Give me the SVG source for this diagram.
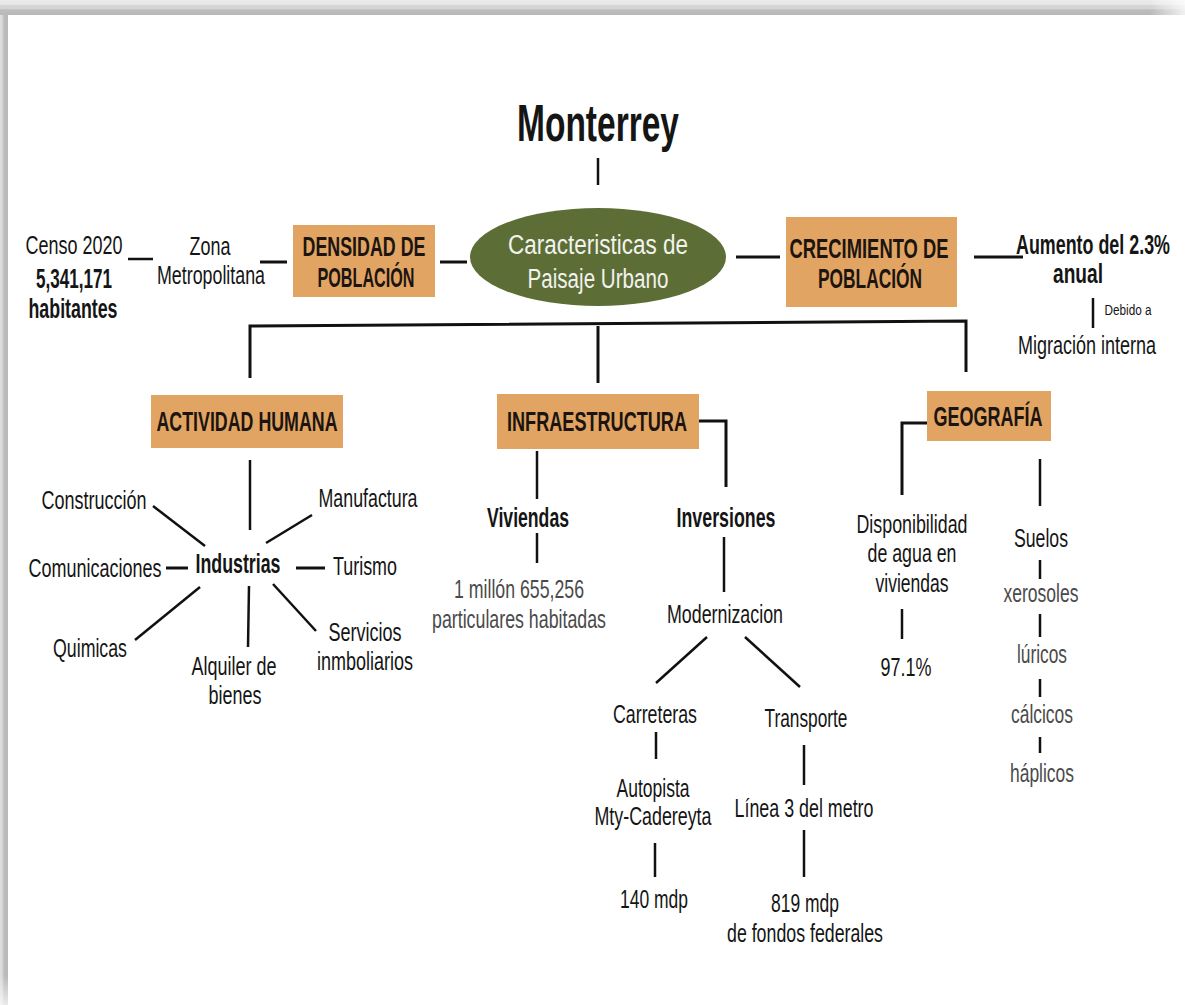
<svg xmlns="http://www.w3.org/2000/svg" width="1185" height="1005" viewBox="0 0 1185 1005">
  <defs>
    <linearGradient id="topBand" x1="0" y1="0" x2="0" y2="1">
      <stop offset="0" stop-color="#ececec"/>
      <stop offset="0.3" stop-color="#e6e6e6"/>
      <stop offset="0.35" stop-color="#d6d6d6"/>
      <stop offset="0.6" stop-color="#d3d3d3"/>
      <stop offset="0.65" stop-color="#bdbdbd"/>
      <stop offset="1" stop-color="#b9b9b9"/>
    </linearGradient>
    <linearGradient id="leftBand" x1="0" y1="0" x2="1" y2="0">
      <stop offset="0" stop-color="#e0e0e0"/>
      <stop offset="0.4" stop-color="#d2d2d2"/>
      <stop offset="0.45" stop-color="#bdbdbd"/>
      <stop offset="1" stop-color="#b8b8b8"/>
    </linearGradient>
    <linearGradient id="rightFade" x1="0" y1="0" x2="1" y2="0">
      <stop offset="0" stop-color="#ffffff" stop-opacity="0"/>
      <stop offset="1" stop-color="#ffffff" stop-opacity="0.8"/>
    </linearGradient>
    <linearGradient id="bottomFade" x1="0" y1="0" x2="0" y2="1">
      <stop offset="0" stop-color="#ffffff" stop-opacity="0"/>
      <stop offset="1" stop-color="#ffffff" stop-opacity="0.7"/>
    </linearGradient>
  </defs>
  <style>
    text { font-family: "Liberation Sans Narrow", "Liberation Sans", Arial, sans-serif; text-anchor: middle; fill: #151515; }
    .title { font-size: 52px; font-weight: bold; }
    .box { fill: #e1a462; }
    .boxtxt { font-size: 28px; font-weight: bold; fill: #1c1410; }
    .lbl { font-size: 26px; }
    .bold { font-size: 27px; font-weight: bold; }
    .grey { fill: #4a4a4a; }
    .oval { font-size: 27px; fill: #f2f2ee; }
    .small { font-size: 14px; }
    .conn line, .conn polyline { stroke: #111; stroke-width: 2.5; fill: none; }
    .conn .thick { stroke-width: 3; }
  </style>

  <!-- page frame -->
  <rect x="0" y="0" width="1185" height="1005" fill="#ffffff"/>
  <rect x="0" y="0" width="1185" height="15" fill="url(#topBand)"/>
  <rect x="0" y="15" width="8" height="990" fill="url(#leftBand)"/>
  <rect x="1150" y="0" width="35" height="15" fill="url(#rightFade)"/>
  <rect x="0" y="975" width="8" height="30" fill="url(#bottomFade)"/>

  <!-- connectors -->
  <g id="connectors" class="conn">
    <line x1="598" y1="158" x2="598" y2="185"/>
    <line x1="128" y1="259" x2="153" y2="259"/>
    <line class="thick" x1="260" y1="262" x2="287" y2="262"/>
    <line class="thick" x1="440" y1="262" x2="467" y2="262"/>
    <line class="thick" x1="736" y1="257" x2="780" y2="257"/>
    <line class="thick" x1="974" y1="257" x2="1023" y2="257"/>
    <line x1="1093" y1="298" x2="1093" y2="328"/>
    <polyline class="thick" points="250,378 250,326 966,321 966,372"/>
    <line class="thick" x1="598" y1="326" x2="598" y2="383"/>
    <!-- actividad humana -->
    <line x1="250" y1="460" x2="250" y2="530"/>
    <line x1="153" y1="506" x2="205" y2="546"/>
    <line x1="312" y1="515" x2="266" y2="543"/>
    <line class="thick" x1="166" y1="568" x2="188" y2="568"/>
    <line class="thick" x1="296" y1="568" x2="325" y2="568"/>
    <line x1="200" y1="587" x2="135" y2="640"/>
    <line x1="249" y1="586" x2="248" y2="647"/>
    <line x1="273" y1="584" x2="316" y2="631"/>
    <!-- infraestructura -->
    <line x1="537" y1="451" x2="537" y2="499"/>
    <line x1="537" y1="533" x2="537" y2="563"/>
    <polyline class="thick" points="699,421 726,421 726,487"/>
    <line x1="724" y1="537" x2="724" y2="592"/>
    <line x1="707" y1="637" x2="656" y2="683"/>
    <line x1="745" y1="637" x2="800" y2="687"/>
    <line x1="656" y1="732" x2="656" y2="759"/>
    <line x1="655" y1="843" x2="655" y2="877"/>
    <line x1="804" y1="745" x2="804" y2="785"/>
    <line x1="804" y1="830" x2="804" y2="877"/>
    <!-- geografia -->
    <polyline class="thick" points="927,423 902,423 902,495"/>
    <line x1="902" y1="609" x2="902" y2="639"/>
    <line x1="1040" y1="459" x2="1040" y2="506"/>
    <line x1="1040" y1="560" x2="1040" y2="579"/>
    <line x1="1040" y1="614" x2="1040" y2="637"/>
    <line x1="1040" y1="679" x2="1040" y2="697"/>
    <line x1="1040" y1="737" x2="1040" y2="753"/>
  </g>

  <g id="title">
    <text class="title" x="598" y="141" textLength="162" lengthAdjust="spacingAndGlyphs">Monterrey</text>
  </g>

  <g id="center">
    <ellipse cx="598" cy="257" rx="128" ry="49" fill="#5c6e36"/>
    <text class="oval" x="598" y="254" textLength="180" lengthAdjust="spacingAndGlyphs">Caracteristicas de</text>
    <text class="oval" x="598" y="288" textLength="141" lengthAdjust="spacingAndGlyphs">Paisaje Urbano</text>
  </g>

  <g id="densidad">
    <rect class="box" x="293" y="225" width="142" height="72"/>
    <text class="boxtxt" x="364" y="256" textLength="123" lengthAdjust="spacingAndGlyphs">DENSIDAD DE</text>
    <text class="boxtxt" x="366" y="287" textLength="97" lengthAdjust="spacingAndGlyphs">POBLACIÓN</text>
  </g>

  <g id="zona">
    <text class="lbl" x="210" y="255" textLength="41" lengthAdjust="spacingAndGlyphs">Zona</text>
    <text class="lbl" x="211" y="284" textLength="108" lengthAdjust="spacingAndGlyphs">Metropolitana</text>
  </g>

  <g id="censo">
    <text class="lbl" x="74" y="254" textLength="97" lengthAdjust="spacingAndGlyphs">Censo 2020</text>
    <text class="bold" x="74" y="288" textLength="76" lengthAdjust="spacingAndGlyphs">5,341,171</text>
    <text class="bold" x="73" y="318" textLength="89" lengthAdjust="spacingAndGlyphs">habitantes</text>
  </g>

  <g id="crecimiento">
    <rect class="box" x="786" y="217" width="171" height="90"/>
    <text class="boxtxt" x="869" y="258" textLength="159" lengthAdjust="spacingAndGlyphs">CRECIMIENTO DE</text>
    <text class="boxtxt" x="870" y="288" textLength="104" lengthAdjust="spacingAndGlyphs">POBLACIÓN</text>
  </g>

  <g id="aumento">
    <text class="bold" x="1093" y="254" textLength="154" lengthAdjust="spacingAndGlyphs">Aumento del 2.3%</text>
    <text class="bold" x="1078" y="283" textLength="50" lengthAdjust="spacingAndGlyphs">anual</text>
  </g>

  <g id="debido">
    <text class="small" x="1128" y="315" textLength="47" lengthAdjust="spacingAndGlyphs">Debido a</text>
  </g>

  <g id="migracion">
    <text class="lbl" x="1087" y="354" textLength="138" lengthAdjust="spacingAndGlyphs">Migración interna</text>
  </g>

  <g id="actividad">
    <rect class="box" x="151" y="395" width="192" height="53"/>
    <text class="boxtxt" x="247" y="431" textLength="181" lengthAdjust="spacingAndGlyphs">ACTIVIDAD HUMANA</text>
  </g>

  <g id="industrias">
    <text class="bold" x="238" y="573" textLength="85" lengthAdjust="spacingAndGlyphs">Industrias</text>
  </g>
  <g id="construccion">
    <text class="lbl" x="94" y="509" textLength="105" lengthAdjust="spacingAndGlyphs">Construcción</text>
  </g>
  <g id="manufactura">
    <text class="lbl" x="368" y="507" textLength="99" lengthAdjust="spacingAndGlyphs">Manufactura</text>
  </g>
  <g id="comunicaciones">
    <text class="lbl" x="95" y="577" textLength="133" lengthAdjust="spacingAndGlyphs">Comunicaciones</text>
  </g>
  <g id="turismo">
    <text class="lbl" x="365" y="575" textLength="64" lengthAdjust="spacingAndGlyphs">Turismo</text>
  </g>
  <g id="quimicas">
    <text class="lbl" x="90" y="657" textLength="74" lengthAdjust="spacingAndGlyphs">Quimicas</text>
  </g>
  <g id="alquiler">
    <text class="lbl" x="234" y="675" textLength="85" lengthAdjust="spacingAndGlyphs">Alquiler de</text>
    <text class="lbl" x="235" y="704" textLength="53" lengthAdjust="spacingAndGlyphs">bienes</text>
  </g>
  <g id="servicios">
    <text class="lbl" x="365" y="641" textLength="73" lengthAdjust="spacingAndGlyphs">Servicios</text>
    <text class="lbl" x="365" y="670" textLength="96" lengthAdjust="spacingAndGlyphs">inmboliarios</text>
  </g>

  <g id="infraestructura">
    <rect class="box" x="497" y="394" width="202" height="55"/>
    <text class="boxtxt" x="597" y="431" textLength="180" lengthAdjust="spacingAndGlyphs">INFRAESTRUCTURA</text>
  </g>
  <g id="viviendas">
    <text class="bold" x="528" y="527" textLength="82" lengthAdjust="spacingAndGlyphs">Viviendas</text>
  </g>
  <g id="millon">
    <text class="lbl grey" x="519" y="598" textLength="130" lengthAdjust="spacingAndGlyphs">1 millón 655,256</text>
    <text class="lbl grey" x="519" y="628" textLength="174" lengthAdjust="spacingAndGlyphs">particulares habitadas</text>
  </g>
  <g id="inversiones">
    <text class="bold" x="726" y="527" textLength="99" lengthAdjust="spacingAndGlyphs">Inversiones</text>
  </g>
  <g id="modernizacion">
    <text class="lbl" x="725" y="623" textLength="116" lengthAdjust="spacingAndGlyphs">Modernizacion</text>
  </g>
  <g id="carreteras">
    <text class="lbl" x="655" y="723" textLength="84" lengthAdjust="spacingAndGlyphs">Carreteras</text>
  </g>
  <g id="autopista">
    <text class="lbl" x="653" y="797" textLength="73" lengthAdjust="spacingAndGlyphs">Autopista</text>
    <text class="lbl" x="653" y="825" textLength="117" lengthAdjust="spacingAndGlyphs">Mty-Cadereyta</text>
  </g>
  <g id="mdp140">
    <text class="lbl" x="654" y="908" textLength="68" lengthAdjust="spacingAndGlyphs">140 mdp</text>
  </g>
  <g id="transporte">
    <text class="lbl" x="806" y="727" textLength="83" lengthAdjust="spacingAndGlyphs">Transporte</text>
  </g>
  <g id="linea3">
    <text class="lbl" x="804" y="817" textLength="139" lengthAdjust="spacingAndGlyphs">Línea 3 del metro</text>
  </g>
  <g id="mdp819">
    <text class="lbl" x="805" y="912" textLength="68" lengthAdjust="spacingAndGlyphs">819 mdp</text>
    <text class="lbl" x="805" y="942" textLength="156" lengthAdjust="spacingAndGlyphs">de fondos federales</text>
  </g>

  <g id="geografia">
    <rect class="box" x="927" y="391" width="124" height="50"/>
    <text class="boxtxt" x="988" y="426" textLength="109" lengthAdjust="spacingAndGlyphs">GEOGRAFÍA</text>
  </g>
  <g id="disponibilidad">
    <text class="lbl" x="912" y="533" textLength="111" lengthAdjust="spacingAndGlyphs">Disponibilidad</text>
    <text class="lbl" x="912" y="562" textLength="89" lengthAdjust="spacingAndGlyphs">de agua en</text>
    <text class="lbl" x="912" y="592" textLength="73" lengthAdjust="spacingAndGlyphs">viviendas</text>
  </g>
  <g id="porcentaje">
    <text class="lbl" x="906" y="676" textLength="51" lengthAdjust="spacingAndGlyphs">97.1%</text>
  </g>
  <g id="suelos">
    <text class="lbl" x="1041" y="547" textLength="54" lengthAdjust="spacingAndGlyphs">Suelos</text>
  </g>
  <g id="xerosoles">
    <text class="lbl grey" x="1041" y="602" textLength="75" lengthAdjust="spacingAndGlyphs">xerosoles</text>
  </g>
  <g id="luricos">
    <text class="lbl grey" x="1042" y="663" textLength="50" lengthAdjust="spacingAndGlyphs">lúricos</text>
  </g>
  <g id="calcicos">
    <text class="lbl grey" x="1042" y="723" textLength="62" lengthAdjust="spacingAndGlyphs">cálcicos</text>
  </g>
  <g id="haplicos">
    <text class="lbl grey" x="1042" y="782" textLength="64" lengthAdjust="spacingAndGlyphs">háplicos</text>
  </g>
</svg>
